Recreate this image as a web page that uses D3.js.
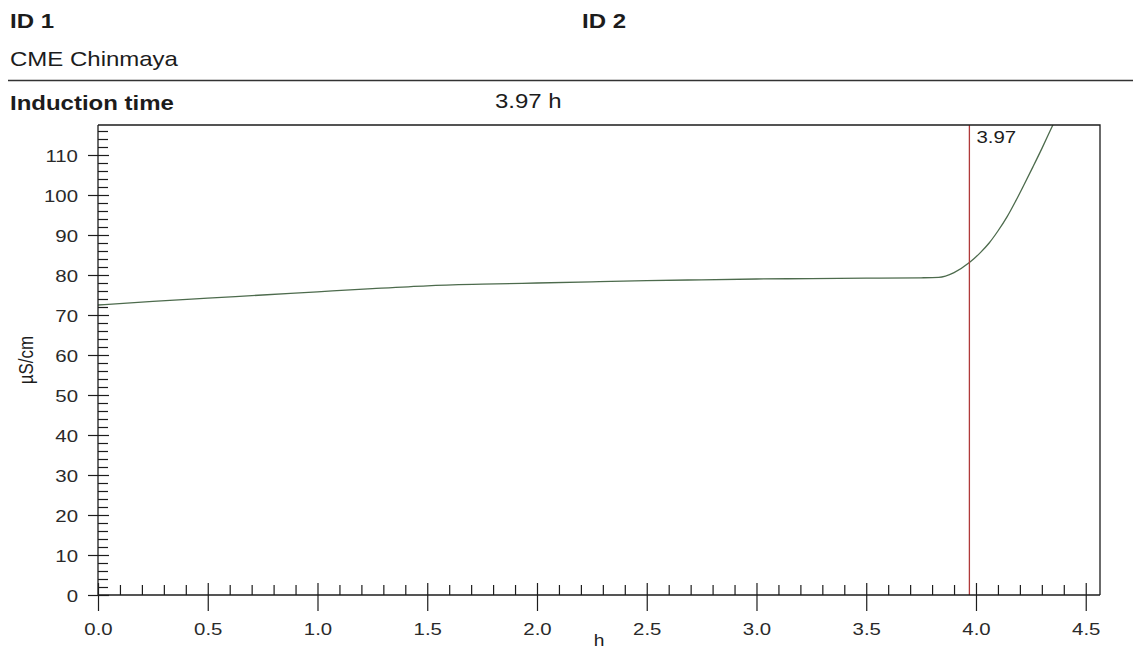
<!DOCTYPE html>
<html>
<head>
<meta charset="utf-8">
<script src="https://cdn.jsdelivr.net/npm/d3@7"></script>
<style>
  html, body { margin: 0; padding: 0; background: #fff; }
  svg { display: block; font-family: "Liberation Sans", Arial, sans-serif; }
</style>
</head>
<body>
<svg id="chart" width="1133" height="651"></svg>
<script>
// Conductivity over time (Rancimat-style induction time measurement)
const timeH = [0, 0.25, 0.5, 0.75, 1.0, 1.25, 1.5, 1.75, 2.0, 2.25, 2.5, 2.75, 3.0, 3.25, 3.5, 3.75,
               3.83, 3.9, 3.97, 4.02, 4.06, 4.1, 4.14, 4.18, 4.22, 4.26, 4.3, 4.34, 4.38];
const conductivity = [72.5, 73.4, 74.2, 75.0, 75.8, 76.6, 77.3, 77.7, 78.0, 78.3, 78.6, 78.8, 79.0, 79.1, 79.2, 79.3,
                      79.4, 80.6, 83.1, 85.6, 88.0, 91.0, 94.4, 98.4, 102.7, 107.1, 111.6, 116.3, 121.0];
const inductionTime = 3.97;

const xMajorTicks = [0, 0.5, 1.0, 1.5, 2.0, 2.5, 3.0, 3.5, 4.0, 4.5];
const xMinorTicks = d3.range(1, 46).map(i => i / 10).filter(v => Math.round(v * 10) % 5 !== 0);
const yMajorTicks = [0, 10, 20, 30, 40, 50, 60, 70, 80, 90, 100, 110];
const yMinorTicks = d3.range(2, 118, 2).filter(v => v % 10 !== 0);

const header = {
  id1: "ID 1", id2: "ID 2", sample: "CME Chinmaya",
  inductionLabel: "Induction time", inductionValue: "3.97 h"
};

const svg = d3.select("#chart");
const plot = { left: 98, right: 1100, top: 125, bottom: 595 };
const SX = 1.2; // horizontal text stretch

const x = d3.scaleLinear().domain([0, 4.565]).range([plot.left, plot.right]);
const y = d3.scaleLinear().domain([0, 117.5]).range([plot.bottom, plot.top]);

const ink = "#1c1c1c";

// Header block
function headText(str, px, py, bold) {
  svg.append("text")
    .attr("transform", `translate(${px},${py}) scale(${SX},1)`)
    .attr("font-size", 20)
    .attr("font-weight", bold ? "bold" : "normal")
    .attr("fill", ink)
    .text(str);
}
headText(header.id1, 10, 28, true);
headText(header.id2, 582, 28, true);
headText(header.sample, 10, 66, false);
svg.append("line")
  .attr("x1", 8).attr("x2", 1133).attr("y1", 80.5).attr("y2", 80.5)
  .attr("stroke", "#333").attr("stroke-width", 1.5);
headText(header.inductionLabel, 10, 110, true);
headText(header.inductionValue, 495, 108, false);

// Clip for the curve
svg.append("defs").append("clipPath").attr("id", "plotClip")
  .append("rect")
  .attr("x", plot.left).attr("y", plot.top)
  .attr("width", plot.right - plot.left).attr("height", plot.bottom - plot.top);

// Curve
const pts = timeH.map((t, i) => [t, conductivity[i]]);
const line = d3.line().x(d => x(d[0])).y(d => y(d[1])).curve(d3.curveMonotoneX);
svg.append("path")
  .attr("d", line(pts))
  .attr("clip-path", "url(#plotClip)")
  .attr("fill", "none")
  .attr("stroke", "#4d6b4d")
  .attr("stroke-width", 1.3);

// Induction-time marker
svg.append("line")
  .attr("x1", x(inductionTime)).attr("x2", x(inductionTime))
  .attr("y1", plot.top).attr("y2", plot.bottom)
  .attr("stroke", "#b03a3a").attr("stroke-width", 1.3);
svg.append("text")
  .attr("transform", `translate(${x(inductionTime) + 7},143) scale(${SX},1)`)
  .attr("font-size", 17).attr("fill", ink)
  .text(d3.format(".2f")(inductionTime));

// Frame (top and right edges)
svg.append("path")
  .attr("d", `M${plot.left},${plot.top}H${plot.right}V${plot.bottom}`)
  .attr("fill", "none").attr("stroke", ink).attr("stroke-width", 1.3);

function styleAxis(g) {
  g.select(".domain").remove();
  g.selectAll(".tick line").attr("stroke", ink).attr("stroke-width", 1.2);
}

// X axis: outward major ticks with labels
const gxMajor = svg.append("g")
  .attr("transform", `translate(0,${plot.bottom})`)
  .call(d3.axisBottom(x).tickValues(xMajorTicks).tickSize(16).tickPadding(12).tickFormat(d3.format(".1f")))
  .call(styleAxis);
gxMajor.selectAll("text")
  .attr("font-size", 17).attr("fill", "#2a2a2a")
  .attr("font-family", "Liberation Sans, Arial, sans-serif")
  .attr("transform", `scale(${SX},1)`);
// inward part of major ticks
svg.append("g")
  .attr("transform", `translate(0,${plot.bottom})`)
  .call(d3.axisTop(x).tickValues(xMajorTicks).tickSize(12).tickFormat(""))
  .call(styleAxis);
// minor ticks (inside)
svg.append("g")
  .attr("transform", `translate(0,${plot.bottom})`)
  .call(d3.axisTop(x).tickValues(xMinorTicks).tickSize(10).tickFormat(""))
  .call(styleAxis);

// Y axis: outward major ticks with labels
const gyMajor = svg.append("g")
  .attr("transform", `translate(${plot.left},0)`)
  .call(d3.axisLeft(y).tickValues(yMajorTicks).tickSize(10).tickPadding(6.7).tickFormat(d3.format("d")))
  .call(styleAxis);
gyMajor.selectAll("text")
  .attr("font-size", 17).attr("fill", "#2a2a2a")
  .attr("font-family", "Liberation Sans, Arial, sans-serif")
  .attr("dy", "0.4em")
  .attr("transform", `scale(${SX},1)`);
svg.append("g")
  .attr("transform", `translate(${plot.left},0)`)
  .call(d3.axisRight(y).tickValues(yMajorTicks).tickSize(11).tickFormat(""))
  .call(styleAxis);
svg.append("g")
  .attr("transform", `translate(${plot.left},0)`)
  .call(d3.axisRight(y).tickValues(yMinorTicks).tickSize(10).tickFormat(""))
  .call(styleAxis);

// Axis lines
svg.append("line")
  .attr("x1", plot.left).attr("x2", plot.right).attr("y1", plot.bottom).attr("y2", plot.bottom)
  .attr("stroke", ink).attr("stroke-width", 1.3);
svg.append("line")
  .attr("x1", plot.left).attr("x2", plot.left).attr("y1", plot.top).attr("y2", plot.bottom)
  .attr("stroke", ink).attr("stroke-width", 1.3);

// Axis titles
svg.append("text")
  .attr("transform", `translate(${(plot.left + plot.right) / 2},646) scale(${SX},1)`)
  .attr("text-anchor", "middle").attr("font-size", 16).attr("fill", ink)
  .text("h");
svg.append("text")
  .attr("transform", `translate(33,${(plot.top + plot.bottom) / 2}) rotate(-90) scale(1,${SX})`)
  .attr("text-anchor", "middle").attr("font-size", 17).attr("fill", ink)
  .text("µS/cm");
</script>
</body>
</html>
